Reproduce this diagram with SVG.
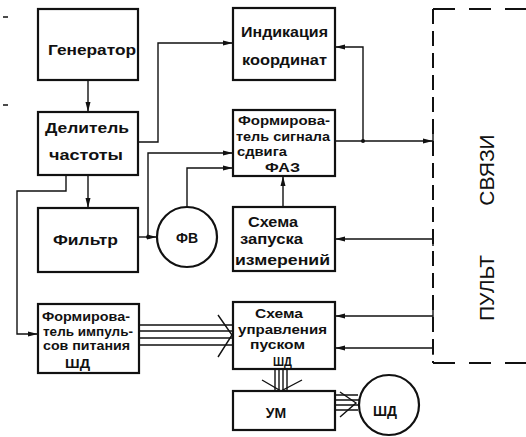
<svg xmlns="http://www.w3.org/2000/svg" width="526" height="437" viewBox="0 0 526 437">
<style>
.box{fill:#fff;stroke:#111;stroke-width:2.2}
.c{fill:none;stroke:#111;stroke-width:1.4}
.d{fill:none;stroke:#111;stroke-width:2;stroke-dasharray:15 7}
.dh{fill:none;stroke:#111;stroke-width:2;stroke-dasharray:22 14}
.t{font-family:"Liberation Sans","DejaVu Sans",sans-serif;font-size:14px;font-weight:bold;fill:#111}
.s{font-family:"Liberation Sans","DejaVu Sans",sans-serif;font-size:12px;font-weight:bold;fill:#111}
.big{font-family:"Liberation Sans","DejaVu Sans",sans-serif;font-size:21px;fill:#111}
.ch{fill:none;stroke:#111;stroke-width:1.4}
</style>
<defs>
<marker id="a" viewBox="0 0 10 6" refX="10" refY="3" markerWidth="11" markerHeight="6" markerUnits="userSpaceOnUse" orient="auto">
<path d="M0,0.5 L10,3 L0,5.5 z" fill="#111"/>
</marker>
</defs>
<rect width="526" height="437" fill="#fff"/>

<g id="connectors">
<path class="c" d="M88,80 V112" marker-end="url(#a)"/>
<path class="c" d="M88,175 V208" marker-end="url(#a)"/>
<path class="c" d="M138,142 H158 V43 H233" marker-end="url(#a)"/>
<path class="c" d="M66,175 V191 H17 V334 H38" marker-end="url(#a)"/>
<path class="c" d="M138,237 H157" marker-end="url(#a)"/>
<path class="c" d="M148,237 V153 H233" marker-end="url(#a)"/>
<circle cx="148" cy="237" r="2" fill="#111"/>
<path class="c" d="M187,207 V168 H233" marker-end="url(#a)"/>
<path class="c" d="M283,207 V176" marker-end="url(#a)"/>
<path class="c" d="M363,141 V47 H335" marker-end="url(#a)"/>
<path class="c" d="M335,141 H433" marker-end="url(#a)"/>
<circle cx="363" cy="141" r="2" fill="#111"/>
<path class="c" d="M433,239 H335" marker-end="url(#a)"/>
<path class="c" d="M433,316 H335" marker-end="url(#a)"/>
<path class="c" d="M433,348 H335" marker-end="url(#a)"/>
<path class="c" d="M433,134 V148 M433,232 V246 M433,309 V323 M433,341 V355"/>
<path class="c" d="M139,325 H232 M139,331 H232 M139,338 H232 M139,345 H232"/>
<path class="ch" d="M218,315 L232,335 L218,357"/>
<path class="c" d="M275,369 V391 M279,369 V391 M283,369 V391 M287,369 V391"/>
<path class="ch" d="M262,380 L281,391 L302,380"/>
<path class="c" d="M335,395 H358 M335,400 H359 M335,405 H359 M335,410 H358"/>
<path class="ch" d="M340,392 L356,403 L340,417"/>
</g>

<g id="pult">
<path class="dh" d="M433,9 H526"/>
<path class="d" d="M433,9 V363"/>
<path class="dh" d="M433,363 H526"/>
<text class="big" transform="translate(494,170) rotate(-90)" text-anchor="middle">СВЯЗИ</text>
<text class="big" transform="translate(494,288) rotate(-90)" text-anchor="middle">ПУЛЬТ</text>
</g>

<g id="generator">
<rect class="box" x="38" y="9" width="100" height="71"/>
<text class="t" x="48" y="55" textLength="88" lengthAdjust="spacingAndGlyphs">Генератор</text>
</g>

<g id="divider">
<rect class="box" x="38" y="112" width="100" height="63"/>
<text class="t" x="45" y="133" textLength="84" lengthAdjust="spacingAndGlyphs">Делитель</text>
<text class="t" x="49" y="160" textLength="74" lengthAdjust="spacingAndGlyphs">частоты</text>
</g>

<g id="indication">
<rect class="box" x="233" y="8" width="102" height="72"/>
<text class="t" x="241" y="37" textLength="87" lengthAdjust="spacingAndGlyphs">Индикация</text>
<text class="t" x="242" y="65" textLength="85" lengthAdjust="spacingAndGlyphs">координат</text>
</g>

<g id="phase">
<rect class="box" x="233" y="110" width="102" height="66"/>
<text class="s" x="238" y="125" textLength="92" lengthAdjust="spacingAndGlyphs">Формирова-</text>
<text class="s" x="236" y="141" textLength="94" lengthAdjust="spacingAndGlyphs">тель сигнала</text>
<text class="s" x="237" y="156" textLength="50" lengthAdjust="spacingAndGlyphs">сдвига</text>
<text class="s" x="265" y="172" textLength="35" lengthAdjust="spacingAndGlyphs">ФАЗ</text>
</g>

<g id="filter">
<rect class="box" x="38" y="208" width="100" height="64"/>
<text class="t" x="53" y="245" textLength="65" lengthAdjust="spacingAndGlyphs">Фильтр</text>
</g>

<g id="fv">
<circle class="box" cx="187" cy="237" r="30"/>
<text class="t" x="187" y="243" text-anchor="middle">ФВ</text>
</g>

<g id="start">
<rect class="box" x="233" y="207" width="102" height="64"/>
<text class="t" x="248" y="227" textLength="50" lengthAdjust="spacingAndGlyphs">Схема</text>
<text class="t" x="240" y="244" textLength="63" lengthAdjust="spacingAndGlyphs">запуска</text>
<text class="t" x="235" y="265" textLength="95" lengthAdjust="spacingAndGlyphs">измерений</text>
</g>

<g id="pulse">
<rect class="box" x="38" y="304" width="101" height="69"/>
<text class="s" x="42" y="321" textLength="88" lengthAdjust="spacingAndGlyphs">Формирова-</text>
<text class="s" x="43" y="336" textLength="90" lengthAdjust="spacingAndGlyphs">тель импуль-</text>
<text class="s" x="43" y="350" textLength="87" lengthAdjust="spacingAndGlyphs">сов питания</text>
<text class="s" x="65" y="368" textLength="25" lengthAdjust="spacingAndGlyphs">ШД</text>
</g>

<g id="control">
<rect class="box" x="233" y="302" width="102" height="67"/>
<text class="s" x="255" y="318" textLength="48" lengthAdjust="spacingAndGlyphs">Схема</text>
<text class="s" x="238" y="334" textLength="89" lengthAdjust="spacingAndGlyphs">управления</text>
<text class="s" x="250" y="349" textLength="55" lengthAdjust="spacingAndGlyphs">пуском</text>
<text class="s" x="273" y="366" textLength="19" lengthAdjust="spacingAndGlyphs">ШД</text>
</g>

<g id="amp">
<rect class="box" x="233" y="391" width="102" height="39"/>
<text class="t" x="276" y="418" text-anchor="middle">УМ</text>
</g>

<g id="motor">
<circle class="box" cx="389" cy="405" r="30"/>
<text class="t" x="385" y="416" text-anchor="middle">ШД</text>
</g>

<g id="marks">
<path class="c" d="M3,17 H8 M3,105 H8"/>
</g>
</svg>
